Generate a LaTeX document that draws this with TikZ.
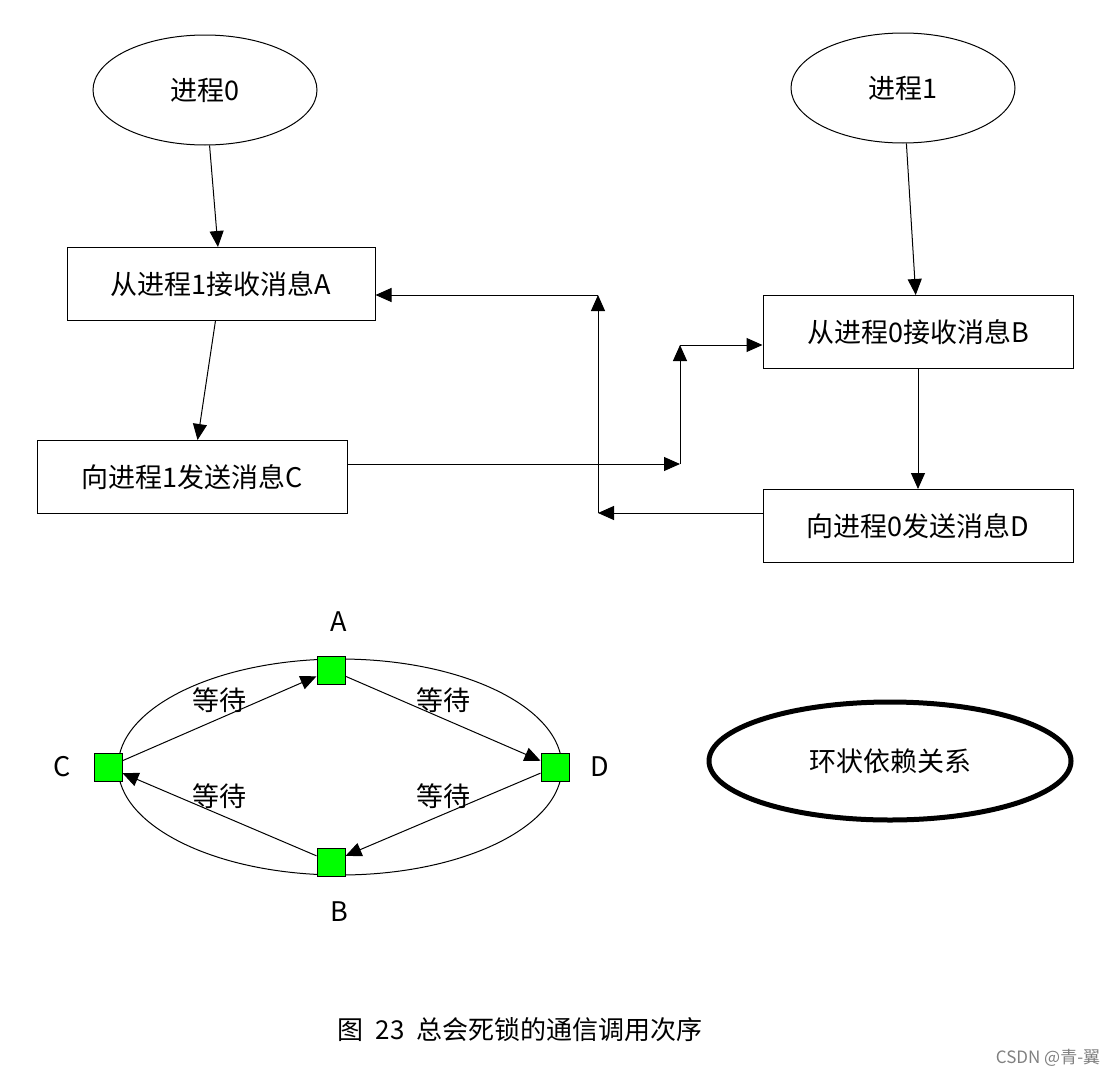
\documentclass[tikz,border=0pt]{standalone}
\usepackage{fontspec}
\setmainfont{Noto Sans CJK SC}
\usetikzlibrary{shapes.geometric,arrows.meta}
\begin{document}
\begin{tikzpicture}[x=1pt,y=-1pt,
  txt/.style={font=\fontsize{27}{30}\selectfont},
  box/.style={draw,line width=1pt,minimum width=308pt,minimum height=73pt,inner sep=0pt,txt},
  ell/.style={draw,ellipse,line width=1pt,minimum width=224pt,minimum height=110pt,txt},
  arr/.style={line width=1pt,-{Triangle[length=16pt,width=14pt]}},
  sq/.style={draw,fill=green,line width=1pt,minimum size=28pt,inner sep=0pt}]
\useasboundingbox (0,0) rectangle (1119,1079);
\node[ell] (p0) at (205,90) {进程0};
\node[ell] (p1) at (903,88) {进程1};
\node[box] (a) at (221,284) {从进程1接收消息A};
\node[box,minimum width=310pt] (c) at (192,477) {向进程1发送消息C};
\node[box,minimum width=310pt] (b) at (918,332) {从进程0接收消息B};
\node[box,minimum width=310pt] (d) at (918,526) {向进程0发送消息D};
\draw[arr] (p0) -- (a);
\draw[arr] (a) -- (c);
\draw[arr] (p1) -- (b);
\draw[arr] (b) -- (d);
\coordinate (c1) at (680,464);
\coordinate (c2) at (680,345);
\coordinate (d1) at (598,513);
\coordinate (d2) at (598,295);
\draw[arr] (c.east|-c1) -- (c1);
\draw[arr] (c1) -- (c2);
\draw[arr] (c2) -- (b.west|-c2);
\draw[arr] (d.west|-d1) -- (d1);
\draw[arr] (d1) -- (d2);
\draw[arr] (d2) -- (a.east|-d2);
\node[draw,ellipse,line width=1pt,minimum width=444pt,minimum height=216pt] (ring) at (340,767) {};
\node[sq] (A) at (331,670) {};
\node[sq] (C) at (108,767) {};
\node[sq] (D) at (555,767) {};
\node[sq] (B) at (331,862) {};
\node[txt] at (339,622) {A};
\node[txt] at (62,767) {C};
\node[txt] at (600,767) {D};
\node[txt] at (339,912) {B};
\draw[arr] (C) -- node[txt,above=2pt,pos=0.5] {等待} (A);
\draw[arr] (A) -- node[txt,above=2pt,pos=0.5] {等待} (D);
\draw[arr] (D) -- node[txt,above=2pt,pos=0.5] {等待} (B);
\draw[arr] (B) -- node[txt,above=2pt,pos=0.5] {等待} (C);
\node[draw,ellipse,line width=5pt,minimum width=362pt,minimum height=118pt,txt] (loop) at (890,761) {环状依赖关系};
\node[font=\fontsize{26}{30}\selectfont] (cap) at (520,1030) {图\ \ 23\ \ 总会死锁的通信调用次序};
\node[font=\fontsize{17}{20}\selectfont,text=gray] (wm) at (1048,1058) {CSDN @青-翼};
\end{tikzpicture}
\end{document}
